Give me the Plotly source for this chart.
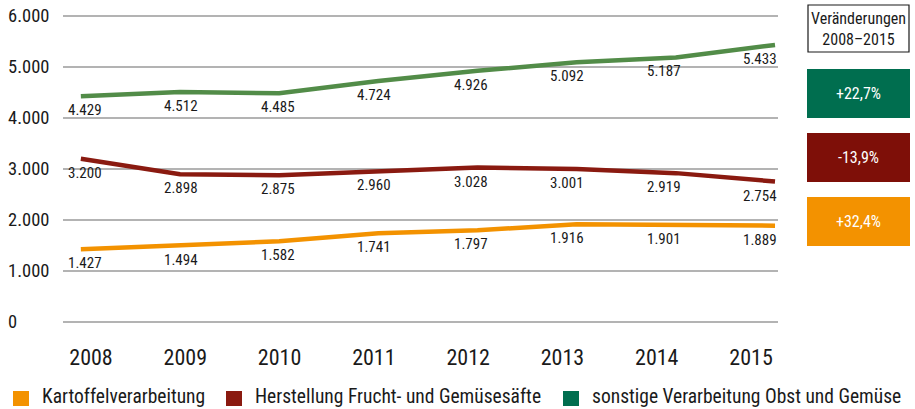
import plotly.graph_objects as go

years = ["2008", "2009", "2010", "2011", "2012", "2013", "2014", "2015"]
kartoffel = [1427, 1494, 1582, 1741, 1797, 1916, 1901, 1889]
saefte = [3200, 2898, 2875, 2960, 3028, 3001, 2919, 2754]
sonstige = [4429, 4512, 4485, 4724, 4926, 5092, 5187, 5433]
series_names = ["Kartoffelverarbeitung", "Herstellung Frucht- und Gemüsesäfte",
                "sonstige Verarbeitung Obst und Gemüse"]
changes = ["+22,7%", "-13,9%", "+32,4%"]  # sonstige, säfte, kartoffel
change_title = "Veränderungen<br>2008–2015"
ytick_vals = [0, 1000, 2000, 3000, 4000, 5000, 6000]
ytick_text = ["0", "1.000", "2.000", "3.000", "4.000", "5.000", "6.000"]

FONT = "Roboto Condensed, DejaVu Sans Condensed, sans-serif"
TXT = "#1a1a1a"
line_colors = ["#f39200", "#8a1a10", "#528c48"]
legend_colors = ["#f39200", "#8a1a10", "#006e4f"]
box_colors = {"sonstige": "#006e4f", "saefte": "#7e0f08", "kartoffel": "#f39200"}

W, H = 915, 409
L, R, T, B = 63, 778, 14, 324
YR = [-40, 6040]


def fmt(v):
    return f"{v:,}".replace(",", ".")


def px(xp):
    return (xp - L) / (R - L)


def py(yp):
    return (B - yp) / (B - T)


idx = list(range(len(years)))
fig = go.Figure()

for vals, col, name in zip([kartoffel, saefte, sonstige], line_colors, series_names):
    fig.add_trace(go.Scatter(x=idx, y=vals, mode="lines", name=name,
                             line=dict(color=col, width=4.5),
                             showlegend=False, hoverinfo="skip"))

# helper invisible traces so overlay axes exist
fig.add_trace(go.Scatter(x=idx, y=[None] * len(idx), xaxis="x2", mode="markers",
                         showlegend=False, hoverinfo="skip"))
fig.add_trace(go.Scatter(x=idx, y=[None] * len(idx), xaxis="x3", mode="markers",
                         showlegend=False, hoverinfo="skip"))

annotations = []
shapes = []
# data labels
for vals in [kartoffel, saefte, sonstige]:
    for i, v in enumerate(vals):
        annotations.append(dict(x=i, y=v, xref="x3", yref="y", text=fmt(v),
                                showarrow=False, yshift=-14, xanchor="center",
                                yanchor="middle",
                                font=dict(family=FONT, size=15, color=TXT)))
# y tick labels, left aligned
for v, t in zip(ytick_vals, ytick_text):
    annotations.append(dict(x=px(6), y=v, xref="paper", yref="y", text=t,
                            showarrow=False, xanchor="left", yanchor="middle",
                            font=dict(family=FONT, size=18.5, color=TXT)))

# change boxes
shapes.append(dict(type="rect", xref="paper", yref="paper",
                   x0=px(808), x1=px(909), y0=py(52), y1=py(5),
                   line=dict(color="#1a1a1a", width=1.2), fillcolor="white"))
annotations.append(dict(x=px(858.5), y=py(29), xref="paper", yref="paper",
                        text=change_title, showarrow=False,
                        xanchor="center", yanchor="middle",
                        font=dict(family=FONT, size=16, color=TXT)))
box_rows = [(69, 118, box_colors["sonstige"], changes[0]),
            (133, 182, box_colors["saefte"], changes[1]),
            (197, 246, box_colors["kartoffel"], changes[2])]
for y0, y1, col, txt in box_rows:
    shapes.append(dict(type="rect", xref="paper", yref="paper",
                       x0=px(807), x1=px(910), y0=py(y1), y1=py(y0),
                       line=dict(width=0), fillcolor=col))
    annotations.append(dict(x=px(858.5), y=py((y0 + y1) / 2), xref="paper",
                            yref="paper", text=txt, showarrow=False,
                            xanchor="center", yanchor="middle",
                            font=dict(family=FONT, size=16, color="white")))

# legend (drawn manually so it stays on one row)
legend_square_x = [13, 226, 563]
for sx, name, col in zip(legend_square_x, series_names, legend_colors):
    shapes.append(dict(type="rect", xref="paper", yref="paper",
                       x0=px(sx), x1=px(sx + 16), y0=py(406), y1=py(391),
                       line=dict(width=0), fillcolor=col))
    annotations.append(dict(x=px(sx + 27), y=py(397), xref="paper", yref="paper",
                            text=name, showarrow=False, xanchor="left",
                            yanchor="middle",
                            font=dict(family=FONT, size=19.5, color=TXT)))

fig.update_layout(
    width=W, height=H,
    margin=dict(l=L, r=W - R, t=T, b=H - B, pad=0, autoexpand=False),
    paper_bgcolor="white", plot_bgcolor="white",
    font=dict(family=FONT, color=TXT),
    showlegend=False,
    xaxis=dict(range=[-0.18, 7.03], showgrid=False, zeroline=False,
               showticklabels=False, fixedrange=True),
    xaxis2=dict(overlaying="x", anchor="y", side="bottom",
                range=[-0.297, 7.286], tickvals=idx, ticktext=years,
                showgrid=False, zeroline=False, ticks="outside", ticklen=14,
                tickcolor="rgba(0,0,0,0)",
                tickfont=dict(family=FONT, size=22, color=TXT)),
    xaxis3=dict(overlaying="x", anchor="y", range=[-0.228, 7.187],
                visible=False),
    yaxis=dict(range=YR, tickvals=ytick_vals, showticklabels=False,
               showgrid=True, gridcolor="#b3b3b3", gridwidth=1.3,
               zeroline=False, fixedrange=True),
    shapes=shapes,
    annotations=annotations,
)

fig.write_html("out.html",
               config={"displayModeBar": False, "staticPlot": True},
               post_script="document.body.style.margin='0';"
                           "document.body.style.overflow='hidden';")
